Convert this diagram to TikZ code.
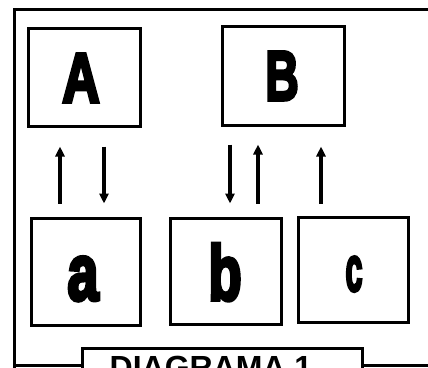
\documentclass[tikz,border=0pt]{standalone}
\usepackage{fontspec}
\usepackage{graphicx}
\usetikzlibrary{arrows.meta}
\newfontfamily\heavy[FakeBold=5,BoldFeatures={FakeBold=5}]{Liberation Sans}
\tikzset{
  box/.style={draw, line width=3pt, rectangle, inner sep=0pt},
  letter/.style={anchor=base, inner sep=0pt, font=\heavy\bfseries},
  arr/.style={line width=3.6pt, -{Triangle[length=10pt,width=9pt]}},
  frame/.style={line width=3pt, line cap=rect}
}
\begin{document}
\begin{tikzpicture}[x=1pt,y=1pt]
\useasboundingbox (0,0) rectangle (428,-367);
\clip (0,0) rectangle (428,-367);
\fill[white] (0,0) rectangle (428,-367);
% outer frame
\draw[frame] (430,-9) -- (14,-9) -- (14,-370);
\draw[frame] (14,-365) -- (82,-365);
\draw[frame] (362,-365) -- (430,-365);
% boxes
\node[box, minimum width=112pt, minimum height=98pt] (A) at (84,-77) {};
\node[box, minimum width=122pt, minimum height=99pt] (B) at (283,-75.5) {};
\node[box, minimum width=109pt, minimum height=107pt] (a) at (85.5,-271.5) {};
\node[box, minimum width=111pt, minimum height=106pt] (b) at (225.5,-271) {};
\node[box, minimum width=110pt, minimum height=105pt] (c) at (353,-269.5) {};
\node[box, minimum width=280pt, minimum height=44pt] (D) at (222,-370) {};
% letters
\node[letter] (tA) at (81,-102) {\fontsize{70}{70}\selectfont\scalebox{0.74}[1]{A}};
\node[letter] (tB) at (282,-100) {\fontsize{70}{70}\selectfont\scalebox{0.66}[1]{B}};
\node[letter] (ta) at (83,-300) {\fontsize{80}{80}\selectfont\scalebox{0.7}[1]{a}};
\node[letter] (tb) at (225,-300) {\fontsize{78}{78}\selectfont\scalebox{0.7}[1]{b}};
\node[letter] (tc) at (354,-291) {\fontsize{64}{64}\selectfont\scalebox{0.48}[1]{c}};
\node[anchor=base, inner sep=0pt, font={\fontspec{Liberation Sans}\bfseries\fontsize{32}{32}\selectfont}] (title) at (211,-378) {DIAGRAMA 1};
% arrow x positions
\coordinate (x1) at (60,0);
\coordinate (x2) at (104,0);
\coordinate (x3) at (230,0);
\coordinate (x4) at (258,0);
\coordinate (x5) at (321,0);
% arrows
\draw[arr, shorten <=13pt, shorten >=19pt] (a.north -| x1) -- (A.south -| x1);
\draw[arr, shorten <=19pt, shorten >=13pt] (A.south -| x2) -- (a.north -| x2);
\draw[arr, shorten <=18pt, shorten >=13pt] (B.south -| x3) -- (b.north -| x3);
\draw[arr, shorten <=13pt, shorten >=18pt] (b.north -| x4) -- (B.south -| x4);
\draw[arr, shorten <=12pt, shorten >=20pt] (c.north -| x5) -- (B.south -| x5);
\end{tikzpicture}
\end{document}
